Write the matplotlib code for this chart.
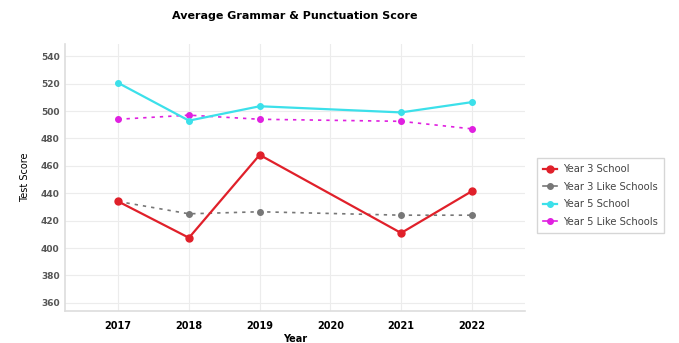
import matplotlib
matplotlib.use("Agg")
import matplotlib.pyplot as plt

years = [2017, 2018, 2019, 2021, 2022]
year_ticks = [2017, 2018, 2019, 2020, 2021, 2022]
y_ticks = [360, 380, 400, 420, 440, 460, 480, 500, 520, 540]

y3_school = [434, 407.5, 468, 411, 441.5]
y3_like = [434, 425, 426.5, 424, 424]
y5_school = [520.5, 493, 503.5, 499, 506.5]
y5_like = [494, 497, 494, 492.5, 487]

plt.rcParams['font.family'] = ['DejaVu Sans']

fig = plt.figure(figsize=(6.79, 3.43), dpi=100)
ax = fig.add_axes([0.096, 0.093, 0.677, 0.779])

ax.plot(years, y3_school, color='#e0202a', lw=1.6, marker='o', ms=5,
        label='Year 3 School', zorder=4)
ax.plot(years, y3_like, color='#777777', lw=1.2, ls=(0, (2, 3)), marker='o', ms=4,
        label='Year 3 Like Schools', zorder=3)
ax.plot(years, y5_school, color='#3ce0ea', lw=1.6, marker='o', ms=4,
        label='Year 5 School', zorder=4)
ax.plot(years, y5_like, color='#e020e0', lw=1.2, ls=(0, (2, 3)), marker='o', ms=4,
        label='Year 5 Like Schools', zorder=3)

ax.set_xlim(2016.25, 2022.75)
ax.set_ylim(354, 549)
ax.set_xticks(year_ticks)
ax.set_xticklabels([str(y) for y in year_ticks], fontsize=7, fontweight='bold')
ax.set_yticks(y_ticks)
ax.set_yticklabels([str(v) for v in y_ticks], fontsize=6.5, color='#555555',
                   fontweight='bold')
ax.tick_params(axis='both', length=0, pad=4)
ax.tick_params(axis='x', pad=7)

ax.grid(True, color='#ececec', lw=0.8)
for s in ['top', 'right']:
    ax.spines[s].set_visible(False)
for s in ['left', 'bottom']:
    ax.spines[s].set_color('#dddddd')
    ax.spines[s].set_linewidth(1.2)

ax.set_title('Average Grammar & Punctuation Score', fontsize=8, fontweight='bold', pad=18)
ax.set_xlabel('Year', fontsize=7, fontweight='bold', labelpad=2)
ax.set_ylabel('Test Score', fontsize=7, labelpad=8)

leg = ax.legend(loc='center left', bbox_to_anchor=(1.015, 0.433), fontsize=7.2,
                frameon=True, fancybox=False, edgecolor='#cccccc',
                handlelength=1.4, handletextpad=0.6, borderpad=0.6, labelspacing=0.75)
for h in leg.get_lines():
    h.set_linestyle('-')
for t in leg.get_texts():
    t.set_color('#444444')

fig.savefig('out.png', dpi=100)
